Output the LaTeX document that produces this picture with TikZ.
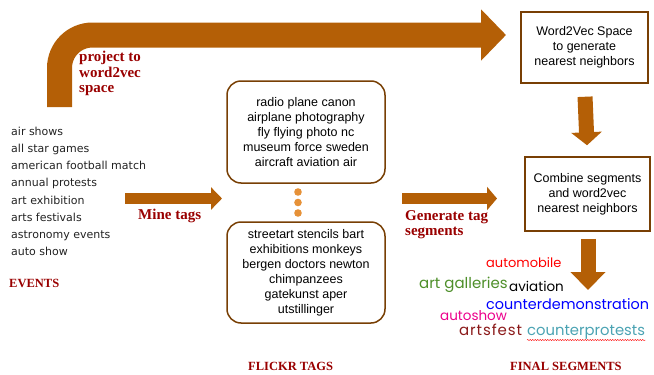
\documentclass[tikz,border=0pt]{standalone}
\usepackage{fontspec}
\usetikzlibrary{arrows.meta,decorations.pathmorphing}
\newfontfamily\evfont{DejaVu Sans}
\newfontfamily\boxfont{Liberation Sans}
\newfontfamily\lblfont{Liberation Serif}
\newfontfamily\segfont{Poppins}
\definecolor{arrowbrown}{HTML}{B45F06}
\definecolor{boxbrown}{HTML}{783F04}
\definecolor{lblred}{HTML}{990000}
\definecolor{dotorange}{HTML}{E69138}
\definecolor{evgray}{HTML}{222222}
\definecolor{seggreen}{HTML}{4E8F2A}
\definecolor{segteal}{HTML}{4BA3B3}
\definecolor{segdark}{HTML}{8B1A1A}

\begin{document}
\begin{tikzpicture}[x=1pt, y=-1pt,
  arr/.style={draw=arrowbrown},
  evtext/.style={font=\evfont\fontsize{11}{13}\selectfont, text=evgray, anchor=base west, inner sep=0},
  tagbox/.style={draw=boxbrown, line width=1.5pt, rounded corners=14pt, minimum width=158pt,
    minimum height=102pt, align=center, font=\boxfont\fontsize{12.5}{15}\selectfont},
  w2vbox/.style={draw=boxbrown, line width=1.5pt, align=center, font=\boxfont\fontsize{12.5}{15}\selectfont},
  lbl/.style={font=\lblfont\bfseries\fontsize{15}{15.5}\selectfont, text=lblred, inner sep=0, align=left},
  hdr/.style={font=\lblfont\bfseries\fontsize{12.5}{15}\selectfont, text=lblred, anchor=base west, inner sep=0},
  seg/.style={font=\segfont\fontsize{#1}{14}\selectfont, anchor=base west, inner sep=0}]
\useasboundingbox (0,0) rectangle (654,375);

% events
\foreach \ev [count=\i] in {air shows, all star games, american football match, annual protests,
    art exhibition, arts festivals, astronomy events, auto show}
  \node[evtext] (ev\i) at (11, 118.5+17.1*\i) {\ev};
\node[hdr] (evhdr) at (9,287) {EVENTS};

% flickr tags
\node[tagbox] (tagsA) at (306,132) {radio plane canon\\airplane photography\\fly flying photo nc\\museum force sweden\\aircraft aviation air};
\node[tagbox, minimum height=101pt] (tagsB) at (306,272.5) {streetart stencils bart\\exhibitions monkeys\\bergen doctors newton\\chimpanzees\\gatekunst aper\\utstillinger};
\foreach \y in {192,202.5,213}
  \fill[dotorange] (298,\y) circle (3.8pt);
\node[hdr] (flhdr) at (248,370) {FLICKR TAGS};

% word2vec side
\node[w2vbox, minimum width=127pt, minimum height=71pt] (w2v) at (584.5,47.5) {Word2Vec Space\\to generate\\nearest neighbors};
\node[w2vbox, minimum width=125pt, minimum height=74pt] (comb) at (587.5,194) {Combine segments\\and word2vec\\nearest neighbors};

% arrows
\coordinate (projstart) at (59.5,107);
\coordinate (projend) at (506,35);
\coordinate (minestart) at (125,198.5);
\coordinate (mineend) at (222,198.5);
\coordinate (genstart) at (402,198.5);
\coordinate (genend) at (497,198.5);
\coordinate (segtip) at (588,290);
\draw[arr, line width=25pt, rounded corners=33pt, -{Triangle[length=25pt,width=50pt]}] (projstart) |- (projend);
\draw[arr, line width=11pt, -{Triangle[length=11pt,width=22pt]}] (minestart) -- (mineend);
\draw[arr, line width=11pt, -{Triangle[length=10pt,width=23pt]}] (genstart) -- (genend);
\draw[arr, line width=15pt, shorten <=13pt, shorten >=11pt, -{Triangle[length=13pt,width=30pt]}] (w2v.south) -- (comb.north);
\draw[arr, line width=15pt, shorten <=7pt, -{Triangle[length=18pt,width=34pt]}] (comb.south -| segtip) -- (segtip);

% labels
\node[lbl, anchor=north west] (projlbl) at (79,51) {project to\\word2vec\\space};
\node[lbl, anchor=base west] (minelbl) at (138,219) {Mine tags};
\node[lbl, anchor=north west] (genlbl) at (405,210) {Generate tag\\segments};

% final segments
\node[seg=13, text=red] (sAuto) at (486,267) {automobile};
\node[seg=15, text=seggreen] (sGal) at (419,288) {art galleries};
\node[seg=13.5, text=black] (sAvi) at (509,291) {aviation};
\node[seg=14.4, text=blue] (sDemo) at (486,309) {counterdemonstration};
\node[seg=13.5, text=magenta] (sShow) at (440,320) {autoshow};
\node[seg=15, text=segdark] (sFest) at (459,335) {\addfontfeature{LetterSpace=6}artsfest};
\node[seg=14.8, text=segteal] (sProt) at (527,335) {counterprotests};
\draw[red, line width=0.4pt, decorate, decoration={snake, amplitude=0.6pt, segment length=2.5pt}]
  ([yshift=-1pt]sProt.south west) -- ([yshift=-1pt]sProt.south east);
\node[hdr] (fshdr) at (510,370) {FINAL SEGMENTS};
\end{tikzpicture}
\end{document}
